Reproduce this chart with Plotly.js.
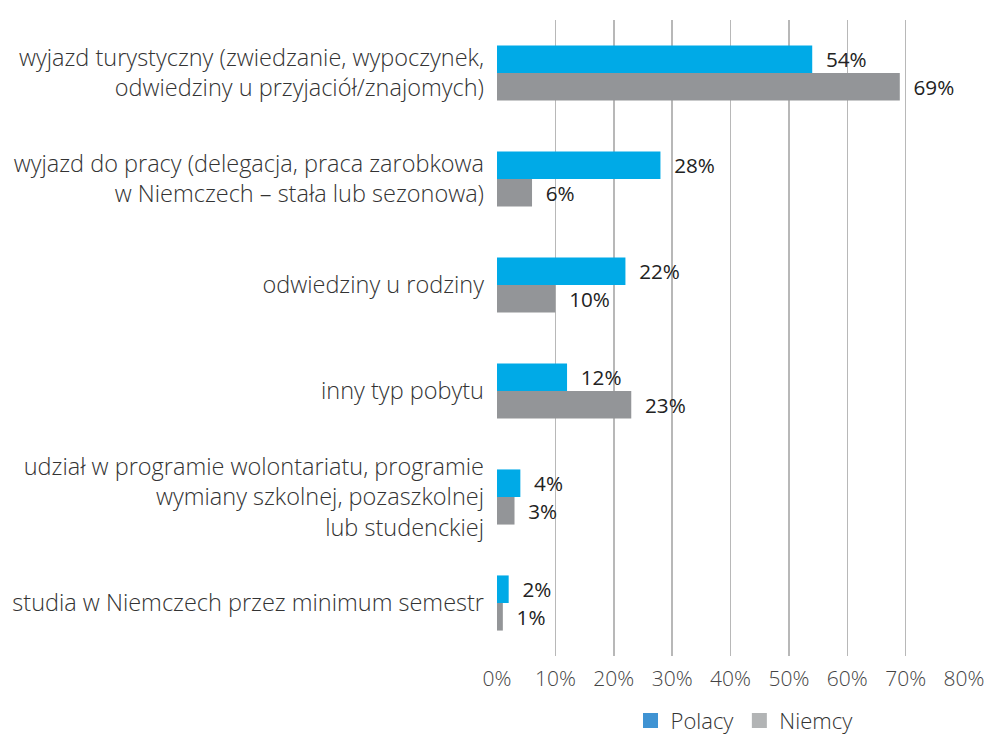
<!DOCTYPE html>
<html>
<head>
<meta charset="utf-8">
<script src="https://cdn.plot.ly/plotly-3.0.1.min.js"></script>
<style>html,body{margin:0;padding:0;background:#fff;}#chart{width:992px;height:740px;}</style>
</head>
<body>
<div id="chart"></div>
<script>
const categories = [
  "wyjazd turystyczny (zwiedzanie, wypoczynek,<br>odwiedziny u przyjaciół/znajomych)",
  "wyjazd do pracy (delegacja, praca zarobkowa<br>w Niemczech – stała lub sezonowa)",
  "odwiedziny u rodziny",
  "inny typ pobytu",
  "udział w programie wolontariatu, programie<br>wymiany szkolnej, pozaszkolnej<br>lub studenckiej",
  "studia w Niemczech przez minimum semestr"
];
const polacy = [54, 28, 22, 12, 4, 2];
const niemcy = [69, 6, 10, 23, 3, 1];
const seriesNames = ["Polacy", "Niemcy"];
const xTickVals = [0, 10, 20, 30, 40, 50, 60, 70, 80];
const xTickText = ["0%", "10%", "20%", "30%", "40%", "50%", "60%", "70%", "80%"];

const FONT = "'Open Sans', sans-serif";
const barColors = ["#00AAE7", "#939598"];
const legendColors = ["#3F93D3", "#B2B4B5"];

function barTrace(name, vals, color) {
  return {
    type: "bar", orientation: "h", name: name,
    x: vals, y: categories,
    marker: {color: color},
    text: vals.map(v => "  " + v + "%"),
    textposition: "outside",
    cliponaxis: false,
    textfont: {family: FONT, size: 21, color: "#222", weight: 400},
    showlegend: false,
    hoverinfo: "x+y"
  };
}
function legendTrace(name, color) {
  return {
    type: "scatter", mode: "markers", name: name,
    x: [null], y: [null],
    marker: {symbol: "square", size: 15, color: color},
    showlegend: true, hoverinfo: "skip"
  };
}

const data = [
  barTrace(seriesNames[0], polacy, barColors[0]),
  barTrace(seriesNames[1], niemcy, barColors[1]),
  legendTrace(seriesNames[0], legendColors[0]),
  legendTrace(seriesNames[1], legendColors[1])
];

const layout = {
  width: 992, height: 740,
  margin: {l: 497, r: 28, t: 20, b: 84, autoexpand: false},
  paper_bgcolor: "#fff", plot_bgcolor: "#fff",
  barmode: "group", bargap: 0.48, bargroupgap: 0,
  font: {family: FONT, color: "#333"},
  xaxis: {
    range: [0, 80], tickvals: xTickVals, ticktext: xTickText,
    showgrid: true, gridcolor: "#b8b8b8", gridwidth: 1.5,
    zeroline: false, showline: false, ticks: "",
    tickfont: {family: FONT, size: 21, color: "#444", weight: 300},
    ticklabelstandoff: 8, fixedrange: true, automargin: false
  },
  yaxis: {
    type: "category", autorange: "reversed",
    showgrid: false, zeroline: false, showline: false, ticks: "",
    tickfont: {family: FONT, size: 23.5, color: "#333", weight: 300},
    ticklabelstandoff: 12, fixedrange: true, automargin: false
  },
  legend: {
    orientation: "h", x: 0.53, xanchor: "center",
    yref: "container", y: 0.026, yanchor: "middle",
    font: {family: FONT, size: 22, color: "#333", weight: 300},
    itemwidth: 30
  },
  showlegend: true
};

Plotly.newPlot("chart", data, layout, {displayModeBar: false, staticPlot: true});
</script>
</body>
</html>
